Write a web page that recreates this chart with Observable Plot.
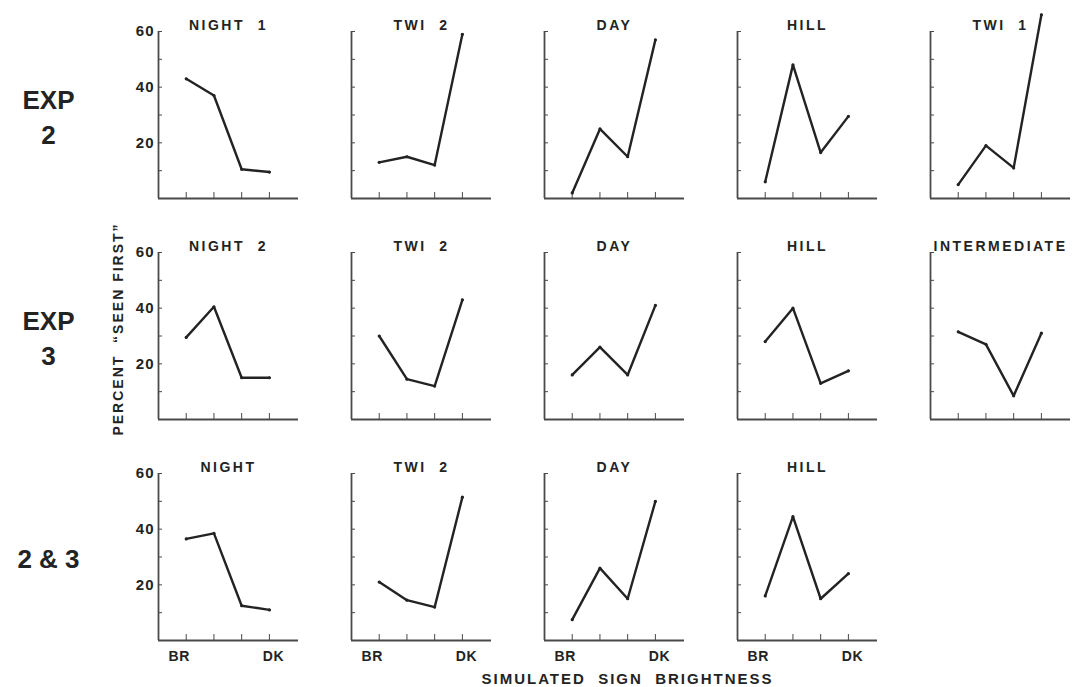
<!DOCTYPE html>
<html>
<head>
<meta charset="utf-8">
<script src="https://cdn.jsdelivr.net/npm/d3@7"></script>
<script src="https://cdn.jsdelivr.net/npm/@observablehq/plot@0.6"></script>
<style>
  html, body { margin: 0; padding: 0; background: #fff; }
  #chart svg { display: block; }
</style>
</head>
<body>
<div id="chart"></div>
<script>
// ---- Data ----
const rowLabels = ["EXP\n2", "EXP\n3", "2 & 3"];
const panelTitles = [
  ["NIGHT  1", "TWI  2", "DAY", "HILL", "TWI  1"],
  ["NIGHT  2", "TWI  2", "DAY", "HILL", "INTERMEDIATE"],
  ["NIGHT", "TWI  2", "DAY", "HILL"]
];
const brightness = [1, 2, 3, 4];
const brightnessLabels = ["BR", "", "", "DK"];
// percent "seen first" per panel, brightness BR -> DK
const exp2Values = [
  [43, 37, 10.5, 9.5],
  [13, 15, 12, 59],
  [2, 25, 15, 57],
  [6, 48, 16.5, 29.5],
  [5, 19, 11, 66]
];
const exp3Values = [
  [29.5, 40.5, 15, 15],
  [30, 14.5, 12, 43],
  [16, 26, 16, 41],
  [28, 40, 13, 17.5],
  [31.5, 27, 8.5, 31]
];
const combinedValues = [
  [36.5, 38.5, 12.5, 11],
  [21, 14.5, 12, 51.5],
  [7.5, 26, 15, 50],
  [16, 44.5, 15, 24]
];
const yTicks = [0, 10, 20, 30, 40, 50, 60];
const yTickLabels = [20, 40, 60];
const yLabel = "PERCENT  \u201CSEEN FIRST\u201D";
const xLabel = "SIMULATED  SIGN  BRIGHTNESS";

// ---- Build tables ----
const xDomain = [0, 5.05];
const yDomain = [0, 60];
const valuesByRow = [exp2Values, exp3Values, combinedValues];
const panels = [];
const points = [];
valuesByRow.forEach((rowVals, row) => rowVals.forEach((vals, col) => {
  panels.push({row, col, title: panelTitles[row][col]});
  vals.forEach((v, i) => points.push({row, col, x: brightness[i], y: v}));
}));
const lastRow = valuesByRow.length - 1;
const endLabels = [];
panels.filter(p => p.row === lastRow).forEach(p =>
  brightness.forEach((b, i) => {
    if (brightnessLabels[i]) endLabels.push({row: p.row, col: p.col, x: b, label: brightnessLabels[i]});
  })
);
const firstLabels = endLabels.filter(d => d.label === brightnessLabels[0]);
const lastLabels = endLabels.filter(d => d.label === brightnessLabels[brightnessLabels.length - 1]);
const tickLabelData = [];
panels.filter(p => p.col === 0).forEach(p =>
  yTickLabels.forEach(v => tickLabelData.push({row: p.row, col: p.col, y: v, label: String(v)}))
);
const rowLabelData = rowLabels.map((label, row) => ({row, col: 0, label}));
const yLabelData = [{row: 1, col: 0, label: yLabel}];
const xLabelData = [{row: lastRow, col: 2, label: xLabel}];

const ink = "#232323";
const axisInk = "#4a4a4a";
const font = "'Liberation Sans', Arial, sans-serif";
const edgeText = {fx: "col", fy: "row", x: "x", text: "label", frameAnchor: "bottom",
  lineAnchor: "top", dy: 11, fontSize: 14, fontWeight: "bold", fill: ink};

const chart = Plot.plot({
  width: 1083,
  height: 687,
  marginLeft: 157,
  marginRight: 13,
  marginTop: 30,
  marginBottom: 45,
  style: {fontFamily: font, color: ink, background: "#fff", overflow: "visible"},
  fx: {domain: [0, 1, 2, 3, 4], paddingInner: 0.277, paddingOuter: 0, axis: null},
  fy: {domain: [0, 1, 2], paddingInner: 0.243, paddingOuter: 0, axis: null},
  x: {domain: xDomain},
  y: {domain: yDomain},
  marks: [
    // axis lines
    Plot.ruleY(panels, {fx: "col", fy: "row", y: () => yDomain[0], stroke: axisInk, strokeWidth: 1.8}),
    Plot.ruleX(panels, {fx: "col", fy: "row", x: () => xDomain[0], stroke: axisInk, strokeWidth: 1.8}),
    // inward ticks
    Plot.axisY(yTicks, {anchor: "left", facetAnchor: null, tickSize: -4, tickFormat: () => "", label: null, stroke: axisInk}),
    Plot.axisX(brightness, {anchor: "bottom", facetAnchor: null, tickSize: -6, tickFormat: () => "", label: null, stroke: axisInk}),
    // y tick labels, first column only
    Plot.text(tickLabelData, {fx: "col", fy: "row", y: "y", text: "label", frameAnchor: "left", textAnchor: "end",
      dx: -4, fontSize: 15, fontWeight: "bold", fill: ink}),
    // BR / DK labels on bottom row
    Plot.text(firstLabels, {...edgeText, dx: -7}),
    Plot.text(lastLabels, {...edgeText, dx: 4}),
    // data
    Plot.line(points, {fx: "col", fy: "row", x: "x", y: "y", stroke: ink, strokeWidth: 2.4}),
    Plot.dot(points, {fx: "col", fy: "row", x: "x", y: "y", r: 1.6, fill: ink}),
    // panel titles
    Plot.text(panels, {fx: "col", fy: "row", text: "title", frameAnchor: "top", lineAnchor: "bottom",
      dy: -2, fontSize: 14, fontWeight: "bold", fill: ink}),
    // row labels
    Plot.text(rowLabelData, {fx: "col", fy: "row", text: "label", frameAnchor: "left", textAnchor: "middle",
      dx: -110, fontSize: 26, fontWeight: "bold", lineHeight: 1.35, fill: ink}),
    // y label
    Plot.text(yLabelData, {fx: "col", fy: "row", text: "label", frameAnchor: "left", textAnchor: "middle",
      dx: -40, dy: -7, rotate: -90, fontSize: 14, fontWeight: "bold", fill: ink}),
    // x label
    Plot.text(xLabelData, {fx: "col", fy: "row", text: "label", frameAnchor: "bottom", lineAnchor: "bottom",
      dx: 13, dy: 43, fontSize: 15, fontWeight: "bold", fill: ink})
  ]
});

// letter spacing, matched on the text content
const spacingFor = new Map();
panelTitles.flat().forEach(t => spacingFor.set(t, "2.5px"));
spacingFor.set(yLabel, "2px");
spacingFor.set(xLabel, "2px");
brightnessLabels.filter(Boolean).forEach(t => spacingFor.set(t, "0.5px"));
yTickLabels.forEach(v => spacingFor.set(String(v), "1px"));
chart.querySelectorAll("text").forEach(t => {
  const ls = spacingFor.get(t.textContent);
  if (ls) t.style.letterSpacing = ls;
});
document.getElementById("chart").append(chart);
</script>
</body>
</html>
